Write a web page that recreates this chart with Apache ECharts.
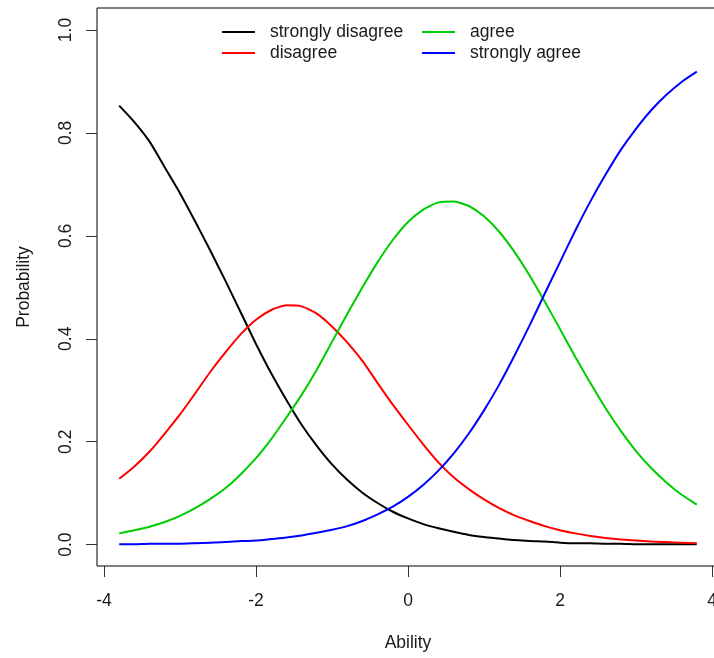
<!DOCTYPE html>
<html>
<head>
<meta charset="utf-8">
<script src="https://cdn.jsdelivr.net/npm/echarts@6/dist/echarts.min.js"></script>
<style>
  html, body { margin: 0; padding: 0; background: #fff; }
  #chart { width: 714px; height: 658px; }
</style>
</head>
<body>
<div id="chart"></div>
<script>
// Category probability curves (graded response)
const theta = [-3.8, -3.6, -3.4, -3.2, -3.0, -2.8, -2.6, -2.4, -2.2, -2.0,
  -1.8, -1.6, -1.4, -1.2, -1.0, -0.8, -0.6, -0.4, -0.2, 0.0,
  0.2, 0.4, 0.6, 0.8, 1.0, 1.2, 1.4, 1.6, 1.8, 2.0,
  2.2, 2.4, 2.6, 2.8, 3.0, 3.2, 3.4, 3.6, 3.8];

const stronglyDisagree = [0.853, 0.821, 0.783, 0.733, 0.683, 0.628, 0.571, 0.512, 0.451, 0.390,
  0.333, 0.281, 0.233, 0.192, 0.156, 0.126, 0.101, 0.081, 0.064, 0.051,
  0.040, 0.032, 0.025, 0.019, 0.015, 0.012, 0.009, 0.007, 0.006, 0.004,
  0.003, 0.003, 0.002, 0.002, 0.001, 0.001, 0.001, 0.001, 0.001];

const disagree = [0.128, 0.152, 0.181, 0.216, 0.253, 0.294, 0.336, 0.374, 0.409, 0.437,
  0.456, 0.465, 0.463, 0.449, 0.424, 0.393, 0.357, 0.314, 0.272, 0.233,
  0.195, 0.160, 0.131, 0.108, 0.088, 0.071, 0.057, 0.046, 0.036, 0.028,
  0.022, 0.017, 0.013, 0.010, 0.008, 0.006, 0.005, 0.004, 0.003];

const agree = [0.022, 0.028, 0.035, 0.044, 0.056, 0.071, 0.089, 0.110, 0.137, 0.168,
  0.205, 0.247, 0.291, 0.340, 0.394, 0.448, 0.500, 0.549, 0.592, 0.627,
  0.651, 0.665, 0.667, 0.658, 0.638, 0.608, 0.569, 0.523, 0.472, 0.419,
  0.365, 0.314, 0.265, 0.221, 0.182, 0.149, 0.121, 0.097, 0.078];

const stronglyAgree = [0.001, 0.001, 0.002, 0.002, 0.002, 0.003, 0.004, 0.005, 0.007, 0.008,
  0.011, 0.014, 0.018, 0.023, 0.029, 0.036, 0.046, 0.059, 0.074, 0.093,
  0.116, 0.144, 0.177, 0.216, 0.261, 0.311, 0.367, 0.426, 0.488, 0.549,
  0.610, 0.667, 0.719, 0.767, 0.808, 0.844, 0.874, 0.899, 0.919];

const xTicks = [-4, -2, 0, 2, 4];
const yTicks = [0, 0.2, 0.4, 0.6, 0.8, 1.0];

const font = 'Liberation Sans, Arial, sans-serif';
const textColor = '#1a1a1a';

const chart = echarts.init(document.getElementById('chart'));

const pairs = (ys) => theta.map((t, i) => [t, ys[i]]);

const lineSeries = (name, ys, color) => ({
  name: name,
  type: 'line',
  data: pairs(ys),
  showSymbol: false,
  symbol: 'none',
  smooth: 0.2,
  lineStyle: { color: color, width: 2 },
  itemStyle: { color: color },
  z: 3
});

const legendBase = {
  orient: 'vertical',
  top: 18,
  icon: 'rect',
  itemWidth: 33,
  itemHeight: 2,
  itemGap: 3,
  textStyle: {
    fontFamily: font,
    fontSize: 17.5,
    color: textColor,
    lineHeight: 17,
    padding: [0, 0, 0, 10]
  }
};

const option = {
  animation: false,
  backgroundColor: '#fff',
  grid: {
    left: 97,
    top: 8,
    width: 622,
    height: 558,
    outerBoundsMode: 'none',
    show: true,
    borderColor: '#000',
    borderWidth: 1,
    backgroundColor: 'transparent'
  },
  legend: [
    Object.assign({}, legendBase, { left: 217, data: ['strongly disagree', 'disagree'] }),
    Object.assign({}, legendBase, { left: 417, data: ['agree', 'strongly agree'] })
  ],
  xAxis: {
    type: 'value',
    min: -4.092,
    max: 4.092,
    name: 'Ability',
    nameLocation: 'middle',
    nameGap: 68,
    nameTextStyle: { fontFamily: font, fontSize: 17.5, color: textColor },
    axisLine: { show: false, onZero: false },
    axisTick: {
      show: true,
      length: 11,
      customValues: xTicks,
      lineStyle: { color: '#333', width: 1 }
    },
    axisLabel: {
      customValues: xTicks,
      margin: 26,
      fontFamily: font,
      fontSize: 17.5,
      color: textColor,
      formatter: (v) => String(v)
    },
    splitLine: { show: false }
  },
  yAxis: {
    type: 'value',
    min: -0.0414,
    max: 1.0427,
    name: 'Probability',
    nameLocation: 'middle',
    nameGap: 64,
    nameRotate: 90,
    nameTextStyle: { fontFamily: font, fontSize: 17.5, color: textColor },
    axisLine: { show: false, onZero: false },
    axisTick: {
      show: true,
      length: 11,
      customValues: yTicks,
      lineStyle: { color: '#333', width: 1 }
    },
    axisLabel: {
      customValues: yTicks,
      rotate: 90,
      margin: 22,
      fontFamily: font,
      fontSize: 17.5,
      color: textColor,
      formatter: (v) => v.toFixed(1)
    },
    splitLine: { show: false }
  },
  series: [
    lineSeries('strongly disagree', stronglyDisagree, '#000000'),
    lineSeries('disagree', disagree, '#ff0000'),
    lineSeries('agree', agree, '#00cd00'),
    lineSeries('strongly agree', stronglyAgree, '#0000ff')
  ]
};

chart.setOption(option);
</script>
</body>
</html>
